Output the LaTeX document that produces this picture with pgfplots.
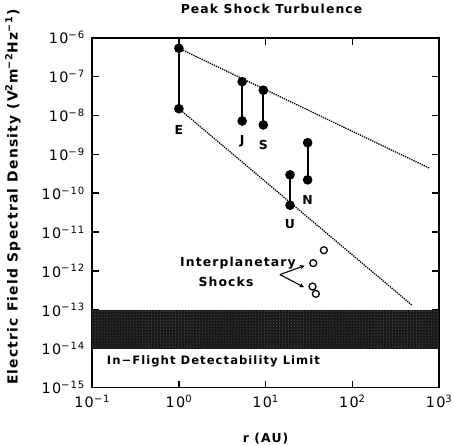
\documentclass[border=0pt]{standalone}
\usepackage{pgfplots}
\pgfplotsset{compat=1.18}
\usetikzlibrary{patterns}
\usepackage{fontspec}
\setmainfont[LetterSpace=9]{DejaVu Sans}
\newcommand{\tp}[1]{10\textsuperscript{#1}}
\begin{document}
\begin{tikzpicture}
\begin{axis}[
    scale only axis,
    width=350pt, height=353pt,
    xmode=log, ymode=log,
    xmin=0.1, xmax=1000, ymin=1e-15, ymax=1e-6,
    xtick={0.1,1,10,100,1000},
    xticklabels={\tp{−1},\tp{0},\tp{1},\tp{2},\tp{3}},
    ytick={1e-15,1e-14,1e-13,1e-12,1e-11,1e-10,1e-9,1e-8,1e-7,1e-6},
    yticklabels={\tp{−15},\tp{−14},\tp{−13},\tp{−12},\tp{−11},\tp{−10},\tp{−9},\tp{−8},\tp{−7},\tp{−6}},
    minor tick length=0pt,
    major tick length=7pt,
    tick align=inside,
    tick style={line width=1.4pt, black},
    axis line style={line width=1.8pt},
    ticklabel style={font=\fontsize{14.5}{16}\selectfont},
    xticklabel style={yshift=-4pt},
    yticklabel style={xshift=-4pt},
    title={Peak Shock Turbulence},
    title style={font=\bfseries\fontsize{12.5}{15}\selectfont, at={(axis description cs:0.517,1.065)}, anchor=center},
    xlabel={r (AU)},
    xlabel style={font=\bfseries\fontsize{12.5}{15}\selectfont, at={(axis description cs:0.5,-0.147)}, anchor=center},
    ylabel={Electric Field Spectral Density (V\textsuperscript{2}m\textsuperscript{−2}Hz\textsuperscript{−1})},
    ylabel style={font=\bfseries\fontsize{14}{16}\selectfont, at={(axis description cs:-0.2286,0.544)}, anchor=center},
]
% detectability band
\addplot [draw=none, fill=black!90, postaction={pattern=dots, pattern color=black!55}] coordinates {(0.1,1e-14) (1000,1e-14) (1000,1e-13) (0.1,1e-13)} -- cycle;
% dotted trend lines
\addplot [densely dotted, line width=1.3pt] coordinates {(1,5.33e-7) (775,4.39e-10)};
\addplot [densely dotted, line width=1.3pt] coordinates {(1,1.49e-8) (488,1.31e-13)};
% planetary ranges
\addplot [line width=2pt, mark=*, mark size=3.8pt] coordinates {(1,5.33e-7) (1,1.49e-8)};
\addplot [line width=2pt, mark=*, mark size=3.8pt] coordinates {(5.36,7.38e-8) (5.36,7.2e-9)};
\addplot [line width=2pt, mark=*, mark size=3.8pt] coordinates {(9.4,4.45e-8) (9.4,5.7e-9)};
\addplot [line width=2pt, mark=*, mark size=3.8pt] coordinates {(19.1,2.96e-10) (19.1,4.9e-11)};
\addplot [line width=2pt, mark=*, mark size=3.8pt] coordinates {(30.5,1.98e-9) (30.5,2.2e-10)};
% interplanetary shocks
\addplot [only marks, mark=o, mark size=3.5pt, line width=1.3pt] coordinates {(46.9,3.41e-12) (35.4,1.59e-12) (34.7,3.98e-13) (37.9,2.58e-13)};
\draw [-stealth, line width=1.1pt] (axis cs:14.6,8.05e-13) -- (axis cs:28.1,1.37e-12);
\draw [-stealth, line width=1.1pt] (axis cs:14.6,8.05e-13) -- (axis cs:27.7,3.83e-13);
\begin{scope}[font=\bfseries\fontsize{12.5}{15}\selectfont]
\node at (axis cs:1,4.16e-9) {E};
\node at (axis cs:5.36,2.14e-9) {J};
\node at (axis cs:9.4,1.72e-9) {S};
\node at (axis cs:30.5,6.8e-11) {N};
\node at (axis cs:19.1,1.57e-11) {U};
\node at (axis cs:4.79,1.56e-12) {Interplanetary};
\node at (axis cs:3.49,5.1e-13) {Shocks};
\node[font=\bfseries\fontsize{11.7}{14}\selectfont] at (axis cs:2.5,4.7e-15) {In−Flight Detectability Limit};
\end{scope}
\end{axis}
\pgfresetboundingbox
\path ([shift={(-93pt,-58pt)}]current axis.south west) rectangle ([shift={(14pt,38pt)}]current axis.north east);
\end{tikzpicture}
\end{document}
